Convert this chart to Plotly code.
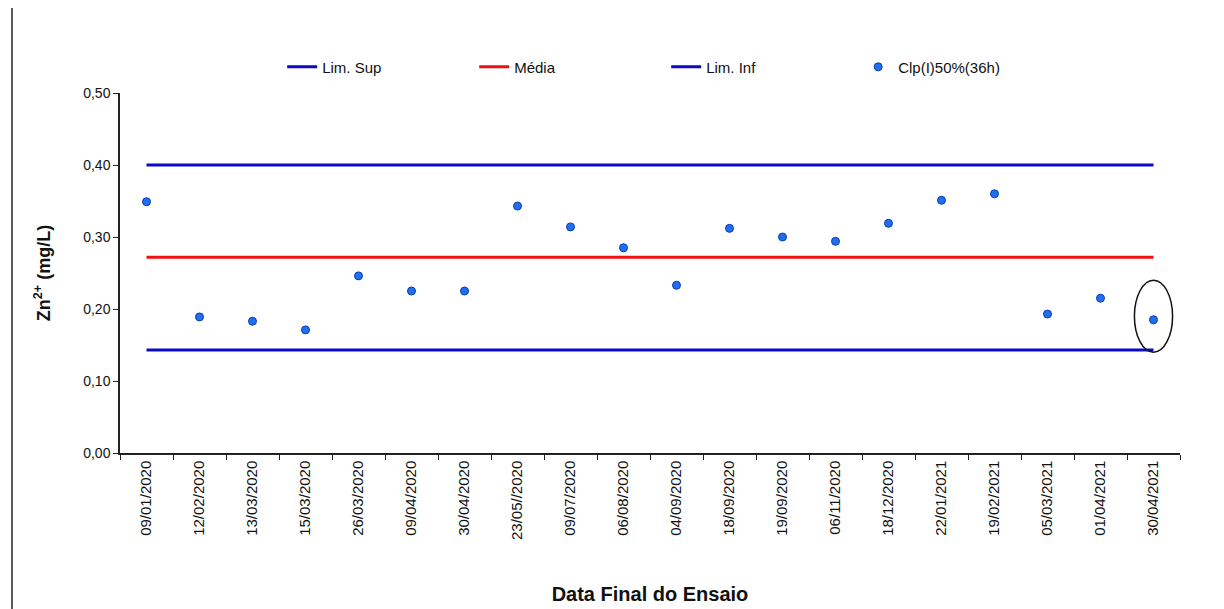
import plotly.graph_objects as go

dates = ["09/01/2020", "12/02/2020", "13/03/2020", "15/03/2020", "26/03/2020",
         "09/04/2020", "30/04/2020", "23/05//2020", "09/07/2020", "06/08/2020",
         "04/09/2020", "18/09/2020", "19/09/2020", "06/11/2020", "18/12/2020",
         "22/01/2021", "19/02/2021", "05/03/2021", "01/04/2021", "30/04/2021"]
values = [0.349, 0.189, 0.183, 0.171, 0.246, 0.225, 0.225, 0.343, 0.314, 0.285,
          0.233, 0.312, 0.300, 0.294, 0.319, 0.351, 0.360, 0.193, 0.215, 0.185]
lim_sup = 0.40
media = 0.272
lim_inf = 0.143

n = len(dates)
fig = go.Figure()
fig.add_trace(go.Scatter(x=dates, y=[lim_sup] * n, mode="lines", name="Lim. Sup",
                         line=dict(color="#0a0ac8", width=3)))
fig.add_trace(go.Scatter(x=dates, y=[media] * n, mode="lines", name="Média",
                         line=dict(color="#f01010", width=3)))
fig.add_trace(go.Scatter(x=dates, y=[lim_inf] * n, mode="lines", name="Lim. Inf",
                         line=dict(color="#0a0ac8", width=3)))
fig.add_trace(go.Scatter(x=dates, y=values, mode="markers", name="Clp(I)50%(36h)",
                         marker=dict(color="#1f6ff0", size=8,
                                     line=dict(color="#0a3cb4", width=1))))

# ellipse around last point
fig.add_shape(type="circle", xref="x", yref="y", x0=n - 1 - 0.36, x1=n - 1 + 0.36,
              y0=0.140, y1=0.240, line=dict(color="#111111", width=1.5))
# frame line on left
fig.add_shape(type="line", xref="paper", yref="paper", x0=-0.1019, x1=-0.1019,
              y0=-0.46, y1=1.26, line=dict(color="#222222", width=1.5))

font_family = "Liberation Sans, Arial, sans-serif"
fig.update_layout(
    width=1224, height=609,
    paper_bgcolor="white", plot_bgcolor="white",
    margin=dict(l=112, r=52, t=85, b=164),
    separators=",.",
    font=dict(family=font_family, color="#111111", size=13),
    showlegend=True,
    legend=dict(orientation="h", x=0.153, y=1.072, xanchor="left", yanchor="middle",
                entrywidth=147, entrywidthmode="pixels",
                font=dict(size=15, family=font_family), bgcolor="rgba(0,0,0,0)"),
    xaxis=dict(type="category", tickson="boundaries", showline=True, linecolor="#222222",
               linewidth=1.5, ticks="outside", ticklen=5, tickcolor="#222222",
               tickangle=-90, showgrid=False, zeroline=False,
               range=[-0.5, n - 0.5],
               tickfont=dict(size=15, family=font_family),
               title=dict(text="<b>Data Final do Ensaio</b>", font=dict(size=20), standoff=48)),
    yaxis=dict(range=[0, 0.5], dtick=0.1, tickformat=".2f", showline=True,
               linecolor="#222222", linewidth=1.5, ticks="outside", ticklen=5,
               tickcolor="#222222", showgrid=False, zeroline=False,
               tickfont=dict(size=14, family=font_family),
               title=dict(text="<b>Zn<sup>2+</sup> (mg/L)</b>", font=dict(size=18), standoff=28)),
)
fig.write_html("out.html")
